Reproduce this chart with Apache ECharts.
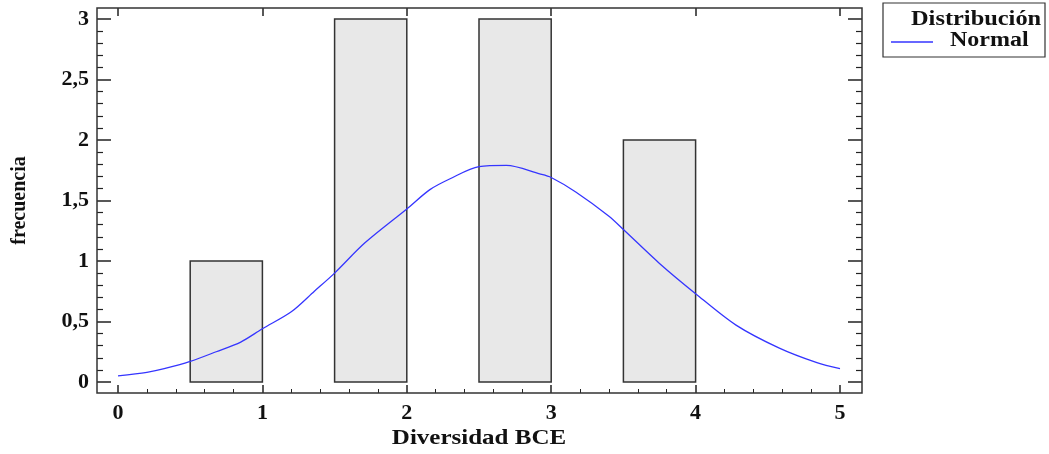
<!DOCTYPE html>
<html>
<head>
<meta charset="utf-8">
<script src="https://cdn.jsdelivr.net/npm/echarts@6/dist/echarts.min.js"></script>
<style>
  html, body { margin: 0; padding: 0; background: #fff; }
  #chart { width: 1049px; height: 454px; }
</style>
</head>
<body>
<div id="chart"></div>
<script>
// histogram bins (Diversidad BCE)
const binStart = [0.5, 1.5, 2.5, 3.5];
const binEnd = [1, 2, 3, 4];
const freq = [1, 3, 3, 2];

// fitted normal curve
const curveX = [0, 0.2, 0.32, 0.5, 0.68, 0.85, 1.0, 1.2, 1.36, 1.5, 1.71, 2.0, 2.16, 2.3, 2.5, 2.69, 2.92, 3.0, 3.17, 3.4, 3.5, 3.75, 4.0, 4.28, 4.58, 4.84, 5.0];
const curveY = [0.05, 0.08, 0.11, 0.17, 0.25, 0.33, 0.44, 0.58, 0.75, 0.9, 1.15, 1.43, 1.59, 1.68, 1.78, 1.79, 1.72, 1.69, 1.57, 1.37, 1.26, 0.98, 0.73, 0.47, 0.28, 0.16, 0.11];

const xTicks = [0, 1, 2, 3, 4, 5];
const yTicks = [0, 0.5, 1, 1.5, 2, 2.5, 3];

const font = '"Liberation Serif", "Times New Roman", serif';
const ink = '#222';
const blue = '#3535ff';

const bars = binStart.map((s, i) => [s, binEnd[i], freq[i]]);
const curve = curveX.map((x, i) => [x, curveY[i]]);

const chart = echarts.init(document.getElementById('chart'));

const tickStyle = { color: ink, width: 1.5 };

const option = {
  animation: false,
  backgroundColor: '#fff',
  grid: { left: 118, right: 209, top: 19, bottom: 72 },
  xAxis: [
    {
      type: 'value', position: 'bottom', offset: 11,
      min: xTicks[0], max: xTicks[xTicks.length - 1], interval: 1,
      axisLine: { show: false, onZero: false },
      axisTick: { inside: true, length: 8, lineStyle: tickStyle },
      minorTick: { show: true, splitNumber: 5, length: 4, lineStyle: { color: ink, width: 1 } },
      splitLine: { show: false },
      axisLabel: { margin: 9, fontFamily: font, fontWeight: 'bold', fontSize: 22, color: '#111' }
    },
    {
      type: 'value', position: 'top', offset: 11,
      min: xTicks[0], max: xTicks[xTicks.length - 1], interval: 1,
      axisLine: { show: false, onZero: false },
      axisTick: { inside: true, length: 8, lineStyle: tickStyle },
      axisLabel: { show: false },
      splitLine: { show: false }
    }
  ],
  yAxis: [
    {
      type: 'value', position: 'left', offset: 21,
      min: yTicks[0], max: yTicks[yTicks.length - 1], interval: 0.5,
      axisLine: { show: false, onZero: false },
      axisTick: { inside: true, length: 14, lineStyle: tickStyle },
      minorTick: { show: true, splitNumber: 5, length: 6, lineStyle: { color: ink, width: 1.2 } },
      splitLine: { show: false },
      axisLabel: {
        margin: 8, fontFamily: font, fontWeight: 'bold', fontSize: 22, color: '#111',
        formatter: v => String(v).replace('.', ',')
      },
      name: 'frecuencia', nameLocation: 'middle', nameGap: 67, nameRotate: 90,
      nameTextStyle: { fontFamily: font, fontWeight: 'bold', fontSize: 20, color: '#111' }
    },
    {
      type: 'value', position: 'right', offset: 22,
      min: yTicks[0], max: yTicks[yTicks.length - 1], interval: 0.5,
      axisLine: { show: false, onZero: false },
      axisTick: { inside: true, length: 14, lineStyle: tickStyle },
      minorTick: { show: true, splitNumber: 5, length: 6, lineStyle: { color: ink, width: 1.2 } },
      splitLine: { show: false },
      axisLabel: { show: false }
    }
  ],
  series: [
    {
      type: 'custom',
      name: 'freq',
      data: bars,
      renderItem: function (params, api) {
        const p0 = api.coord([api.value(0), api.value(2)]);
        const p1 = api.coord([api.value(1), 0]);
        return {
          type: 'rect',
          shape: { x: p0[0], y: p0[1], width: p1[0] - p0[0], height: p1[1] - p0[1] },
          style: { fill: '#e8e8e8', stroke: '#333', lineWidth: 1.5 }
        };
      },
      z: 2
    },
    {
      type: 'line',
      name: 'Normal',
      data: curve,
      smooth: 0.3,
      showSymbol: false,
      lineStyle: { color: blue, width: 1.3 },
      z: 3
    }
  ],
  graphic: [
    {
      type: 'rect', silent: true, z: 10,
      shape: { x: 97, y: 8, width: 765, height: 385 },
      style: { fill: 'none', stroke: '#333', lineWidth: 1.5 }
    },
    {
      type: 'text', z: 10, x: 479, y: 439, scaleX: 1.19,
      style: {
        text: 'Diversidad BCE', font: 'bold 21px ' + font, fill: '#111',
        textAlign: 'center', textVerticalAlign: 'middle'
      }
    },
    {
      type: 'rect', silent: true, z: 10,
      shape: { x: 883, y: 3, width: 162, height: 54 },
      style: { fill: '#fff', stroke: '#333', lineWidth: 1.2 }
    },
    {
      type: 'text', z: 11, x: 911, y: 20, scaleX: 1.22,
      style: { text: 'Distribución', font: 'bold 20px ' + font, fill: '#111', textVerticalAlign: 'middle' }
    },
    {
      type: 'line', z: 11,
      shape: { x1: 891, y1: 42, x2: 933, y2: 42 },
      style: { stroke: blue, lineWidth: 1.5 }
    },
    {
      type: 'text', z: 11, x: 950, y: 41, scaleX: 1.2,
      style: { text: 'Normal', font: 'bold 20px ' + font, fill: '#111', textVerticalAlign: 'middle' }
    }
  ]
};

chart.setOption(option);
</script>
</body>
</html>
